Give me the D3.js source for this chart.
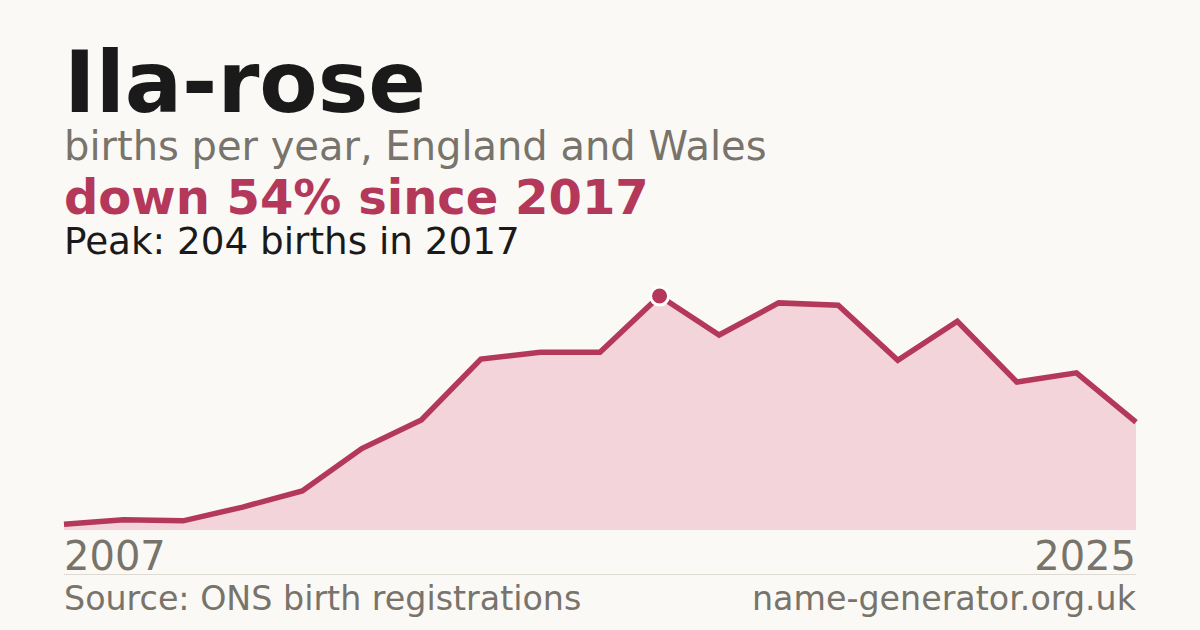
<!DOCTYPE html>
<html>
<head>
<meta charset="utf-8">
<script src="https://cdn.jsdelivr.net/npm/d3@7"></script>
<style>
  html, body { margin: 0; padding: 0; background: #faf9f5; }
  svg { display: block; font-family: "DejaVu Sans", sans-serif; }
</style>
</head>
<body>
<div id="chart"></div>
<script>
// data
var years = [2007, 2008, 2009, 2010, 2011, 2012, 2013, 2014, 2015, 2016,
             2017, 2018, 2019, 2020, 2021, 2022, 2023, 2024, 2025];
var births = [5, 9, 8, 20, 34, 71, 96, 149, 155, 155,
              204, 170, 198, 196, 148, 182, 129, 137, 94];
var endLabels = ["2007", "2025"];

var svgWidth = 1200;
var svgHeight = 630;

var margin = { left: 64, right: 64 };
var plotTop = 296;
var plotBottom = 530;

var accent = "#b3385a";
var grey = "#78736b";

var svg = d3.select("#chart")
  .append("svg")
  .attr("width", svgWidth)
  .attr("height", svgHeight);

svg.append("rect")
  .attr("width", svgWidth)
  .attr("height", svgHeight)
  .attr("fill", "#faf9f5");

var data = years.map(function(y, i) { return { year: y, n: births[i] }; });

var peakIndex = d3.maxIndex(births);
var peak = data[peakIndex];
var last = data[data.length - 1];
var change = Math.round((peak.n - last.n) / peak.n * 100);

// headings
svg.append("text")
  .attr("x", 64).attr("y", 112)
  .attr("font-size", 85).attr("font-weight", "bold")
  .attr("fill", "#1a1a1a")
  .text("Ila-rose");

svg.append("text")
  .attr("x", 64).attr("y", 160)
  .attr("font-size", 40)
  .attr("fill", grey)
  .text("births per year, England and Wales");

svg.append("text")
  .attr("x", 64).attr("y", 214)
  .attr("font-size", 48).attr("font-weight", "bold")
  .attr("fill", accent)
  .text("down " + change + "% since " + peak.year);

svg.append("text")
  .attr("x", 64).attr("y", 254)
  .attr("font-size", 37.3)
  .attr("fill", "#1a1a1a")
  .text("Peak: " + peak.n + " births in " + peak.year);

// scales
var x = d3.scaleLinear()
  .domain(d3.extent(years))
  .range([margin.left, svgWidth - margin.right]);

var y = d3.scaleLinear()
  .domain([0, d3.max(births)])
  .range([plotBottom, plotTop]);

var area = d3.area()
  .x(d => x(d.year))
  .y0(plotBottom)
  .y1(d => y(d.n));

var line = d3.line()
  .x(d => x(d.year))
  .y(d => y(d.n));

svg.append("path")
  .datum(data)
  .attr("d", area)
  .attr("fill", "#f2d4da");

svg.append("path")
  .datum(data)
  .attr("d", line)
  .attr("fill", "none")
  .attr("stroke", accent)
  .attr("stroke-width", 5.5)
  .attr("stroke-linejoin", "miter");

// peak marker
svg.append("circle")
  .attr("cx", x(peak.year))
  .attr("cy", y(peak.n))
  .attr("r", 9)
  .attr("fill", accent)
  .attr("stroke", "#ffffff")
  .attr("stroke-width", 3);

// end labels
svg.append("text")
  .attr("x", x(years[0])).attr("y", 570)
  .attr("font-size", 40)
  .attr("fill", grey)
  .text(endLabels[0]);

svg.append("text")
  .attr("x", x(years[years.length - 1])).attr("y", 570)
  .attr("font-size", 40)
  .attr("text-anchor", "end")
  .attr("fill", grey)
  .text(endLabels[1]);

// divider
svg.append("line")
  .attr("x1", margin.left).attr("x2", svgWidth - margin.right)
  .attr("y1", 574.5).attr("y2", 574.5)
  .attr("stroke", "#dedad2")
  .attr("stroke-width", 1);

// footer
svg.append("text")
  .attr("x", 64).attr("y", 610)
  .attr("font-size", 33.3)
  .attr("fill", grey)
  .text("Source: ONS birth registrations");

svg.append("text")
  .attr("x", svgWidth - margin.right).attr("y", 610)
  .attr("font-size", 33.3)
  .attr("text-anchor", "end")
  .attr("fill", grey)
  .text("name-generator.org.uk");
</script>
</body>
</html>
